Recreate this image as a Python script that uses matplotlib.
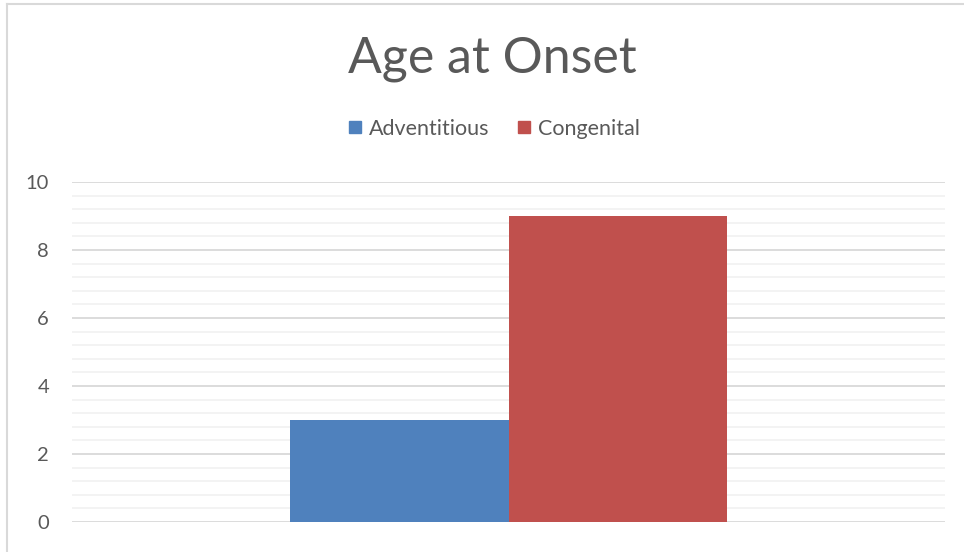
import matplotlib
matplotlib.use("Agg")
import matplotlib.pyplot as plt
from matplotlib.ticker import MultipleLocator
from matplotlib.lines import Line2D

categories = [""]
series_names = ["Adventitious", "Congenital"]
values_adventitious = [3]
values_congenital = [9]
colors = ["#4F81BD", "#C0504D"]
title = "Age at Onset"

plt.rcParams['font.family'] = ['Lato', 'DejaVu Sans']

fig = plt.figure(figsize=(9.64, 5.52), dpi=100)
ax = fig.add_axes([72/964, 30/552, (945-72)/964, 340/552])

bw = 0.25
x0 = 0
ax.bar(x0 - bw/2, values_adventitious[0], width=bw, color=colors[0], label=series_names[0], zorder=3)
ax.bar(x0 + bw/2, values_congenital[0], width=bw, color=colors[1], label=series_names[1], zorder=3)
ax.set_xlim(-0.5, 0.5)
ax.set_ylim(0, 10)
ax.yaxis.set_major_locator(MultipleLocator(2))
ax.yaxis.set_minor_locator(MultipleLocator(0.4))
ax.grid(which='major', axis='y', color='#D9D9D9', linewidth=1.3, zorder=0)
ax.grid(which='minor', axis='y', color='#F2F2F2', linewidth=1.3, zorder=0)
ax.set_xticks([])
ax.tick_params(axis='y', which='both', length=0, labelsize=14.5, labelcolor='#595959', pad=16.5)
for s in ax.spines.values():
    s.set_visible(False)

fig.text(492/964, 1 - 59/552, title, ha='center', va='center', fontsize=36, color='#595959')

handles = [Line2D([], [], marker='s', linestyle='none', markersize=8.8, color=c) for c in colors]
fig.legend(handles, series_names, loc='center', bbox_to_anchor=(487/964, 1 - 129/552), ncol=2,
           frameon=False, fontsize=15.5, labelcolor='#595959', handletextpad=-0.35, columnspacing=0.6)

# outer border (left and top visible)
fig.add_artist(Line2D([7/964, 7/964], [0, 1 - 4/552], color='#D9D9D9', linewidth=1.5, transform=fig.transFigure))
fig.add_artist(Line2D([7/964, 1], [1 - 4/552, 1 - 4/552], color='#D9D9D9', linewidth=1.5, transform=fig.transFigure))

fig.savefig("out.png", dpi=100)
